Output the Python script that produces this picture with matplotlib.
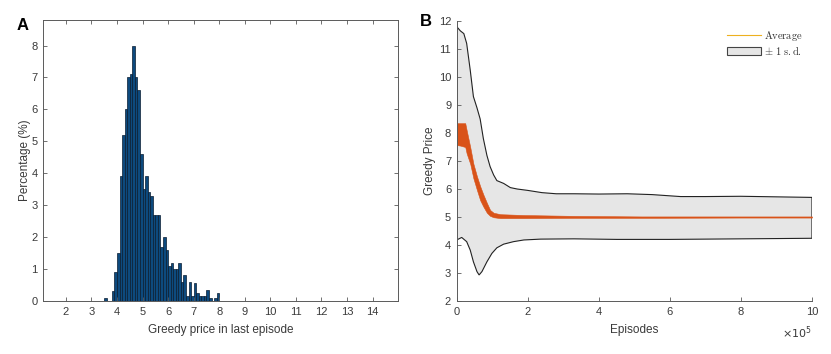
import matplotlib
matplotlib.use("Agg")
import matplotlib.pyplot as plt
from matplotlib.ticker import FuncFormatter
from matplotlib.lines import Line2D
from matplotlib.patches import Patch

plt.rcParams['font.family'] = ['Liberation Sans', 'DejaVu Sans']
plt.rcParams['mathtext.fontset'] = 'cm'

# ---------------- Panel A data: histogram of greedy price ----------------
price_centers = [3.55, 3.85, 3.95, 4.05, 4.15, 4.25, 4.35, 4.45, 4.55, 4.65,
                 4.75, 4.85, 4.95, 5.05, 5.15, 5.25, 5.35, 5.45, 5.55, 5.65,
                 5.75, 5.85, 5.95, 6.05, 6.15, 6.25, 6.35, 6.45, 6.55, 6.65,
                 6.75, 6.85, 6.95, 7.05, 7.15, 7.25, 7.35, 7.45, 7.55, 7.65,
                 7.75, 7.85, 7.95]
price_pct = [0.1, 0.3, 0.9, 1.5, 3.9, 5.2, 6.0, 7.0, 7.1, 8.0,
             7.0, 6.6, 4.6, 3.5, 3.9, 3.4, 3.3, 2.7, 2.7, 2.7,
             1.7, 2.0, 1.6, 1.1, 1.2, 1.0, 1.0, 1.2, 0.6, 0.8,
             0.15, 0.6, 0.15, 0.57, 0.26, 0.16, 0.16, 0.16, 0.34, 0.1,
             0.0, 0.1, 0.26]
bin_width = 0.1
hist_xticks = [2, 3, 4, 5, 6, 7, 8, 9, 10, 11, 12, 13, 14]

# ---------------- Panel B data: greedy price over episodes ----------------
upper_ep = [0, 0.1e5, 0.2e5, 0.28e5, 0.38e5, 0.47e5, 0.57e5, 0.66e5, 0.75e5, 0.85e5,
            0.94e5, 1.04e5, 1.13e5, 1.32e5, 1.51e5, 1.7e5, 2.0e5, 2.4e5, 2.8e5, 3.3e5,
            4.0e5, 4.8e5, 5.5e5, 6.3e5, 7.0e5, 8.0e5, 9.0e5, 10e5]
upper_val = [11.8, 11.65, 11.55, 11.2, 10.25, 9.3, 8.9, 8.5, 7.8, 7.2,
             6.8, 6.5, 6.3, 6.2, 6.05, 6.0, 5.95, 5.87, 5.83, 5.83,
             5.82, 5.83, 5.8, 5.73, 5.73, 5.74, 5.72, 5.70]
lower_ep = [0, 0.14e5, 0.28e5, 0.38e5, 0.47e5, 0.57e5, 0.63e5, 0.71e5, 0.85e5, 0.99e5,
            1.13e5, 1.32e5, 1.6e5, 1.89e5, 2.36e5, 3.3e5, 4.5e5, 5.2e5, 6.0e5, 8.0e5, 10e5]
lower_val = [4.18, 4.27, 4.12, 3.82, 3.4, 3.05, 2.93, 3.05, 3.4, 3.7,
             3.9, 4.03, 4.12, 4.18, 4.21, 4.22, 4.2, 4.2, 4.2, 4.22, 4.24]
avg_ep = [0, 0.1e5, 0.24e5, 0.28e5, 0.38e5, 0.47e5, 0.57e5, 0.66e5, 0.75e5, 0.85e5,
          0.94e5, 1.04e5, 1.23e5, 1.89e5, 3.3e5, 5.2e5, 8.0e5, 10e5]
avg_hi = [8.35, 8.35, 8.35, 8.1, 7.5, 6.9, 6.45, 6.1, 5.8, 5.5,
          5.25, 5.15, 5.1, 5.07, 5.04, 5.02, 5.02, 5.02]
avg_lo = [7.57, 7.55, 7.5, 7.27, 6.9, 6.38, 5.96, 5.6, 5.37, 5.15,
          5.04, 4.99, 4.96, 4.96, 4.97, 4.97, 4.98, 4.98]
ep_xticks = [0, 2e5, 4e5, 6e5, 8e5, 10e5]
price_yticks = [2, 3, 4, 5, 6, 7, 8, 9, 10, 11, 12]

AX_COL = '#5a5a5a'
TXT_COL = '#3a3a3a'
FS = 8

fig = plt.figure(figsize=(8.31, 3.54), dpi=100)

# ---------------- Panel A ----------------
axA = fig.add_axes([0.0517, 0.1497, 0.4273, 0.7938])
axA.bar(price_centers, price_pct, width=bin_width, color='#0d4a7e',
        edgecolor='#0a1c30', linewidth=0.5)
axA.set_xlim(1.1, 15)
axA.set_ylim(0, 8.8)
axA.set_xticks(hist_xticks)
axA.set_yticks(range(0, 9))
axA.set_xlabel('Greedy price in last episode', fontsize=FS + 0.5, color=TXT_COL, labelpad=5)
axA.set_ylabel('Percentage (%)', fontsize=FS + 0.5, color=TXT_COL, labelpad=0)
axA.tick_params(direction='in', length=3, width=0.6, colors=AX_COL, labelcolor=TXT_COL,
                labelsize=FS, top=True, right=True, pad=4)
for s in axA.spines.values():
    s.set_color(AX_COL)
    s.set_linewidth(0.7)
fig.text(0.027, 0.928, 'A', fontsize=12, fontweight='bold', ha='center', va='center')

# ---------------- Panel B ----------------
axB = fig.add_axes([0.5496, 0.1497, 0.4275, 0.7910])
poly_x = list(upper_ep) + list(lower_ep)[::-1]
poly_y = list(upper_val) + list(lower_val)[::-1]
axB.fill(poly_x, poly_y, facecolor='#e6e6e6', edgecolor='#222222', linewidth=0.8, zorder=1)
axB.fill_between(avg_ep, avg_lo, avg_hi, color='#d95319', linewidth=0.4, zorder=2)
axB.set_xlim(0, 10e5)
axB.set_ylim(2, 12)
axB.set_xticks(ep_xticks)
axB.set_yticks(price_yticks)
axB.xaxis.set_major_formatter(FuncFormatter(lambda v, p: f'{v/1e5:g}'))
axB.set_xlabel('Episodes', fontsize=FS + 0.5, color=TXT_COL, labelpad=5)
axB.set_ylabel('Greedy Price', fontsize=FS + 0.5, color=TXT_COL, labelpad=2)
axB.tick_params(direction='in', length=3, width=0.6, colors=AX_COL, labelcolor=TXT_COL,
                labelsize=FS, pad=4)
for side in ['top', 'right']:
    axB.spines[side].set_visible(False)
for side in ['left', 'bottom']:
    axB.spines[side].set_color(AX_COL)
    axB.spines[side].set_linewidth(0.7)
axB.text(1.0, -0.085, r'$\times10^5$', transform=axB.transAxes, ha='right', va='top',
         fontsize=FS, color=TXT_COL, math_fontfamily='dejavusans')
fig.text(0.513, 0.938, 'B', fontsize=12, fontweight='bold', ha='center', va='center')

handles = [Line2D([0], [0], color='#edb120', linewidth=0.8),
           Patch(facecolor='#e6e6e6', edgecolor='#444444', linewidth=0.8)]
leg = axB.legend(handles, [r'$\mathrm{Average}$', r'$\pm\ 1\ \mathrm{s.d.}$'],
                 loc='upper right', bbox_to_anchor=(1.0, 1.005), fontsize=7.5,
                 frameon=True, fancybox=False, handlelength=3.2, handleheight=0.8,
                 handletextpad=0.3, borderpad=0.4, labelspacing=0.15)
leg.get_frame().set_edgecolor('white')
leg.get_frame().set_facecolor('white')
for t in leg.get_texts():
    t.set_color('#333333')

fig.savefig('out.png', dpi=100)
